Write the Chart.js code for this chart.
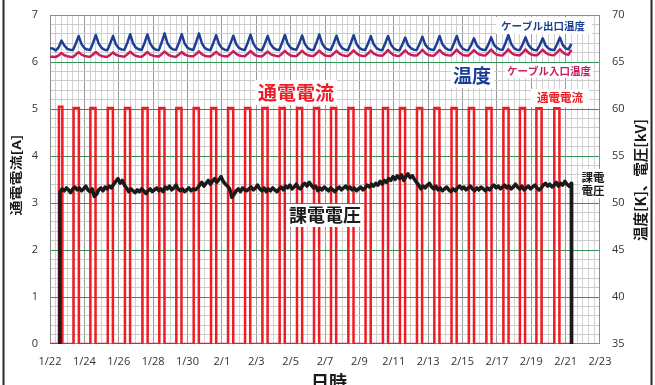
<!DOCTYPE html>
<html>
<head>
<meta charset="utf-8">
<script src="https://cdn.jsdelivr.net/npm/chart.js@4.4.1/dist/chart.umd.min.js"></script>
<style>
  html, body { margin: 0; padding: 0; background: #ffffff; }
  canvas { display: block; }
</style>
</head>
<body>
<canvas id="c" width="655" height="385"></canvas>
<script>
// Time axis: days elapsed since 1/22 00:00
const dateTicks = ['1/22','1/24','1/26','1/28','1/30','2/1','2/3','2/5','2/7','2/9','2/11','2/13','2/15','2/17','2/19','2/21','2/23'];

// Conductor current [A]: one heating pulse per day
const pulseOn  = [0.52,1.37,2.35,3.36,4.36,5.38,6.36,7.35,8.36,9.37,10.36,11.35,12.36,13.36,14.37,
                  15.36,16.35,17.36,18.36,19.37,20.36,21.35,22.36,23.36,24.37,25.39,26.38,27.34,28.30,29.34];
const pulseOff = [0.72,1.68,2.65,3.66,4.66,5.68,6.66,7.65,8.66,9.67,10.66,11.65,12.66,13.66,14.67,
                  15.66,16.65,17.66,18.66,19.67,20.66,21.65,22.66,23.66,24.67,25.69,26.68,27.64,28.60,29.64];
const pulseAmps = [5.05,5.02,5.02,5.02,5.02,5.02,5.02,5.02,5.02,5.02,5.02,5.02,5.02,5.02,5.02,
                   5.02,5.02,5.02,5.02,5.02,5.02,5.02,5.02,5.02,5.02,5.02,5.02,5.02,5.02,5.02];
const currentEnd = 30.35;

// Cable temperatures [K], logged every 4 hours from 1/22 00:00 (one row per day)
const tempStep = 1 / 6;
const outletTemp = [
  66.45,66.43,66.22,66.55,67.28,66.75,
  66.40,66.30,66.27,66.95,67.77,66.90,
  66.48,66.32,66.28,67.00,67.87,66.95,
  66.50,66.30,66.25,66.95,67.77,66.88,
  66.47,66.33,66.30,67.05,67.95,66.98,
  66.52,66.35,66.28,67.02,67.93,66.95,
  66.50,66.30,66.27,67.10,68.05,67.00,
  66.55,66.33,66.30,67.05,67.95,66.97,
  66.52,66.35,66.28,67.10,68.03,67.02,
  66.50,66.32,66.26,67.00,67.85,66.92,
  66.48,66.30,66.25,66.98,67.80,66.90,
  66.50,66.33,66.28,67.03,67.90,66.95,
  66.47,66.30,66.26,66.95,67.78,66.88,
  66.50,66.32,66.28,67.02,67.88,66.93,
  66.52,66.35,66.30,66.98,67.82,66.90,
  66.48,66.30,66.27,67.05,67.92,66.97,
  66.50,66.33,66.28,66.97,67.80,66.90,
  66.47,66.30,66.25,67.00,67.85,66.92,
  66.50,66.32,66.27,66.95,67.75,66.88,
  66.48,66.30,66.26,66.97,67.77,66.87,
  66.45,66.28,66.25,66.85,67.60,66.80,
  66.47,66.30,66.27,66.92,67.70,66.85,
  66.48,66.32,66.28,66.95,67.77,66.88,
  66.50,66.30,66.27,66.97,67.77,66.87,
  66.45,66.28,66.25,66.80,67.52,66.78,
  66.46,66.30,66.27,66.85,67.62,66.82,
  66.50,66.33,66.30,67.02,67.87,66.93,
  66.47,66.30,66.27,66.88,67.62,66.82,
  66.45,66.28,66.26,66.80,67.52,66.78,
  66.46,66.30,66.27,66.86,67.60,66.82,
  66.45,66.35,66.92
];
const inletTemp = [
  65.57,65.55,65.52,65.70,65.95,65.72,
  65.62,65.56,65.54,65.78,66.05,65.78,
  65.65,65.58,65.55,65.80,66.08,65.80,
  65.63,65.57,65.55,65.76,66.02,65.77,
  65.66,65.60,65.57,65.82,66.10,65.82,
  65.64,65.58,65.56,65.80,66.06,65.79,
  65.67,65.60,65.58,65.84,66.12,65.83,
  65.65,65.59,65.57,65.80,66.07,65.80,
  65.68,65.62,65.60,65.85,66.13,65.84,
  65.66,65.60,65.58,65.82,66.08,65.81,
  65.68,65.62,65.60,65.86,66.15,65.86,
  65.70,65.63,65.61,65.87,66.17,65.87,
  65.68,65.62,65.60,65.85,66.12,65.84,
  65.71,65.65,65.62,65.88,66.18,65.88,
  65.70,65.64,65.62,65.90,66.20,65.90,
  65.72,65.66,65.64,65.90,66.22,65.90,
  65.70,65.65,65.63,65.88,66.18,65.88,
  65.73,65.67,65.65,65.92,66.24,65.92,
  65.72,65.66,65.64,65.90,66.22,65.90,
  65.75,65.68,65.66,65.95,66.28,65.95,
  65.73,65.67,65.65,65.92,66.25,65.93,
  65.76,65.70,65.68,65.96,66.30,65.96,
  65.75,65.69,65.67,65.95,66.28,65.95,
  65.78,65.71,65.69,65.98,66.32,65.98,
  65.76,65.70,65.68,65.95,66.27,65.96,
  65.79,65.72,65.70,65.99,66.33,65.99,
  65.78,65.72,65.70,66.00,66.35,66.00,
  65.80,65.73,65.71,66.00,66.34,66.00,
  65.79,65.73,65.71,65.98,66.32,65.99,
  65.81,65.75,65.73,66.02,66.36,66.02,
  65.84,65.78,66.28
];

// Applied voltage [kV], logged every 3 hours while energised
const voltageOnAt = 0.58;
const voltageOffAt = 30.35;
const voltageStep = 0.125;
const voltage = [
  51.2,51.5,51.3,51.6,51.4,51.1,51.5,51.7,
  51.4,51.6,51.3,51.5,51.8,51.4,51.2,51.5,
  50.7,50.9,51.4,51.6,51.3,51.7,51.5,51.8,
  51.6,52.0,52.3,52.6,52.1,52.4,51.9,51.6,
  51.2,51.5,51.3,51.1,51.4,51.2,51.5,51.3,
  51.0,51.3,51.5,51.2,51.4,51.6,51.3,51.5,
  51.2,51.7,51.5,51.8,51.4,51.6,51.9,51.5,
  51.3,51.5,51.2,51.4,51.6,51.3,51.5,51.4,
  51.6,51.9,52.2,51.8,52.1,52.4,52.0,52.3,
  52.6,52.2,52.5,52.8,52.3,52.0,51.8,51.5,
  50.6,50.9,51.3,51.5,51.2,51.6,51.4,51.3,
  51.5,51.7,51.4,51.6,51.9,51.5,51.3,51.6,
  51.2,51.5,51.3,51.6,51.4,51.2,51.5,51.7,
  51.4,51.8,51.6,51.9,51.5,51.7,52.0,51.6,
  51.5,51.9,52.1,51.8,52.2,51.9,51.6,51.8,
  51.3,51.6,51.4,51.7,51.5,51.3,51.6,51.4,
  51.2,51.5,51.7,51.4,51.6,51.8,51.5,51.7,
  51.4,51.6,51.3,51.5,51.7,51.4,51.6,51.9,
  51.7,52.0,51.8,52.1,51.9,52.3,52.0,52.4,
  52.2,52.6,52.4,52.8,52.5,52.9,52.6,53.0,
  52.4,52.8,53.1,52.7,52.9,52.5,52.2,51.9,
  51.5,51.8,51.6,51.9,52.1,51.7,51.5,51.8,
  51.4,51.6,51.3,51.5,51.7,51.4,51.2,51.5,
  51.3,51.6,51.8,51.5,51.7,51.4,51.6,51.8,
  51.5,51.3,51.6,51.4,51.7,51.5,51.3,51.6,
  51.4,51.7,51.9,51.6,51.8,51.5,51.7,51.9,
  51.6,51.8,51.5,51.7,52.0,51.7,51.5,51.8,
  51.4,51.6,51.8,51.5,51.7,51.9,51.6,51.4,
  51.6,51.9,52.1,51.8,52.0,51.7,51.9,52.2,
  51.8,52.1,51.9,52.3,52.0,51.8,52.1
];

// ---- build point tables for the library ----
const currentPts = [{ x: 0, y: 0 }];
pulseOn.forEach((t, i) => {
  currentPts.push({ x: t, y: 0 }, { x: t, y: pulseAmps[i] },
                  { x: pulseOff[i], y: pulseAmps[i] }, { x: pulseOff[i], y: 0 });
});
currentPts.push({ x: currentEnd, y: 0 });

const outletPts = outletTemp.map((v, i) => ({ x: i * tempStep, y: v }));
const inletPts = inletTemp.map((v, i) => ({ x: i * tempStep, y: v }));

const voltagePts = [{ x: 0, y: 0 }, { x: voltageOnAt, y: 0 }];
voltage.forEach((v, i) => voltagePts.push({ x: voltageOnAt + i * voltageStep, y: v }));
voltagePts.push({ x: voltageOffAt, y: voltage[voltage.length - 1] }, { x: voltageOffAt, y: 0 });

const JP = '"Noto Sans CJK JP", "Noto Sans", sans-serif';
const TICK_FONT = { family: '"Open Sans", "DejaVu Sans", sans-serif', size: 11 };
const near = (v, step) => Math.abs(v / step - Math.round(v / step)) < 1e-6;

// fixed axis box sizes, without extra padding from the end labels
const fixBox = (w, h) => s => {
  if (w !== null) s.width = w;
  if (h !== null) s.height = h;
  s.paddingTop = 0; s.paddingBottom = 0; s.paddingLeft = 0; s.paddingRight = 0;
};

// frame, annotations and axis titles
const decorations = {
  id: 'decorations',
  beforeDatasetsDraw(chart) {
    const { ctx, chartArea: a } = chart;
    ctx.save();
    ctx.strokeStyle = '#8c8c8c';
    ctx.lineWidth = 1;
    ctx.strokeRect(a.left + 0.5, a.top + 0.5, a.right - a.left - 1, a.bottom - a.top - 1);
    ctx.restore();
  },
  afterDatasetsDraw(chart) {
    const ctx = chart.ctx;
    const tag = (lines, cx, cy, size, color, box) => {
      ctx.save();
      ctx.fillStyle = '#ffffff';
      ctx.fillRect(box[0], box[1], box[2] - box[0], box[3] - box[1]);
      ctx.font = 'bold ' + size + 'px ' + JP;
      ctx.fillStyle = color;
      ctx.textAlign = 'center';
      ctx.textBaseline = 'middle';
      const lh = size * 1.15;
      lines.forEach((s, i) => ctx.fillText(s, cx, cy + (i - (lines.length - 1) / 2) * lh));
      ctx.restore();
    };
    tag(['ケーブル出口温度'], 543, 26, 10.5, '#1c3f94', [496, 17, 592, 34]);
    tag(['温度'], 472, 76, 19, '#1c3f94', [451, 63, 494, 88]);
    tag(['ケーブル入口温度'], 549, 71, 10.5, '#c81c5e', [505, 63, 593, 78]);
    tag(['通電電流'], 560, 98, 11.5, '#ee1c24', [531, 89, 589, 107]);
    tag(['通電電流'], 296, 93, 19, '#ee1c24', [255, 80, 337, 105]);
    tag(['課電電圧'], 325, 215, 18, '#1a1a1a', [287, 204, 363, 227]);
    tag(['課電', '電圧'], 593, 184, 11.5, '#1a1a1a', [580, 169, 607, 198]);
  },
  afterDraw(chart) {
    const ctx = chart.ctx;
    ctx.save();
    // outer frame
    ctx.fillStyle = '#2b2b2b';
    ctx.fillRect(2.5, 0, 2, 385);
    ctx.fillRect(650.5, 0, 2, 385);
    // axis titles
    ctx.fillStyle = '#1a1a1a';
    ctx.textAlign = 'center';
    ctx.textBaseline = 'middle';
    ctx.font = 'bold 18px ' + JP;
    ctx.fillText('日時', 329, 382);

    ctx.save();
    ctx.translate(16, 175);
    ctx.rotate(-Math.PI / 2);
    ctx.scale(1, 0.8);
    ctx.font = 'bold 15px ' + JP;
    ctx.fillText('通電電流[A]', 0, 0);
    ctx.restore();

    ctx.save();
    ctx.translate(640, 180);
    ctx.rotate(-Math.PI / 2);
    ctx.font = 'bold 14.5px ' + JP;
    ctx.fillText('温度[K]、電圧[kV]', 0, 0);
    ctx.restore();
    ctx.restore();
  }
};

new Chart(document.getElementById('c'), {
  type: 'line',
  data: {
    datasets: [
      { label: '課電電圧', data: voltagePts, yAxisID: 'yR', borderColor: '#1a1a1a', borderWidth: 3.5,
        borderJoinStyle: 'round', pointRadius: 0, tension: 0 },
      { label: '通電電流', data: currentPts, yAxisID: 'y', borderColor: '#ee1c24', borderWidth: 2.5,
        pointRadius: 0, tension: 0 },
      { label: 'ケーブル出口温度', data: outletPts, yAxisID: 'yR', borderColor: '#1c3f94', borderWidth: 2.5,
        borderJoinStyle: 'round', pointRadius: 0, tension: 0 },
      { label: 'ケーブル入口温度', data: inletPts, yAxisID: 'yR', borderColor: '#c81c5e', borderWidth: 2.5,
        borderJoinStyle: 'round', pointRadius: 0, tension: 0 }
    ]
  },
  options: {
    responsive: false,
    animation: false,
    events: [],
    layout: { padding: { top: 15, left: 0, right: 0, bottom: 0 }, autoPadding: false },
    plugins: { legend: { display: false }, tooltip: { enabled: false } },
    scales: {
      x: {
        type: 'linear', position: 'bottom', min: 0, max: 32,
        afterFit: fixBox(null, 41),
        border: { display: false },
        grid: { color: ctx => near(ctx.tick.value, 32) ? 'rgba(0,0,0,0)' : '#9a9a9a', drawTicks: false },
        ticks: { stepSize: 2, autoSkip: false, maxRotation: 0, padding: 11, color: '#333333', font: TICK_FONT,
                 callback: v => dateTicks[Math.round(v / 2)] }
      },
      xMinor: {
        type: 'linear', position: 'bottom', min: 0, max: 32,
        afterFit: fixBox(null, 0),
        border: { display: false },
        grid: { color: ctx => near(ctx.tick.value, 2) ? 'rgba(0,0,0,0)' : '#d2d2d2', drawTicks: false },
        ticks: { display: false, stepSize: 1 / 3, autoSkip: false }
      },
      y: {
        type: 'linear', position: 'left', min: 0, max: 7,
        afterFit: fixBox(50, null),
        border: { display: false },
        grid: { color: ctx => (ctx.tick.value === 0 || ctx.tick.value === 7) ? 'rgba(0,0,0,0)' : '#2f9455', drawTicks: false },
        ticks: { stepSize: 1, padding: 12, color: '#333333', font: TICK_FONT }
      },
      yMinor: {
        type: 'linear', position: 'left', min: 0, max: 7,
        afterFit: fixBox(0, null),
        border: { display: false },
        grid: { color: ctx => near(ctx.tick.value, 1) ? 'rgba(0,0,0,0)' : '#cccccc', drawTicks: false },
        ticks: { display: false, stepSize: 0.2 }
      },
      yR: {
        type: 'linear', position: 'right', min: 35, max: 70,
        afterFit: fixBox(55, null),
        border: { display: false },
        grid: { display: false, drawTicks: false },
        ticks: { stepSize: 5, padding: 12, color: '#333333', font: TICK_FONT }
      }
    }
  },
  plugins: [decorations]
});
</script>
</body>
</html>
